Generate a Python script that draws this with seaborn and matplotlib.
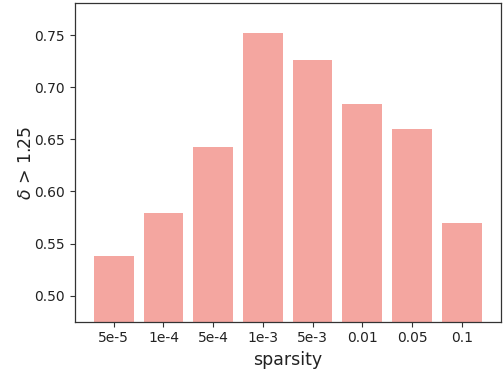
import matplotlib
matplotlib.use("Agg")
import matplotlib.pyplot as plt
import seaborn as sns
import pandas as pd

categories = ["5e-5", "1e-4", "5e-4", "1e-3", "5e-3", "0.01", "0.05", "0.1"]
values = [0.538, 0.579, 0.643, 0.752, 0.726, 0.684, 0.660, 0.570]

df = pd.DataFrame({"sparsity": categories, "value": values})

sns.set_style("ticks")
plt.rcParams['font.family'] = ['DejaVu Sans']

fig = plt.figure(figsize=(5.03, 3.70), dpi=100)
ax = fig.add_axes([74.5 / 503, 1 - 321.7 / 370, (501 - 74.5) / 503, (321.7 - 3.3) / 370])
sns.barplot(data=df, x="sparsity", y="value", color="#F4A6A0", saturation=1,
            width=0.8, ax=ax, order=categories, linewidth=0, edgecolor="none")
ax.set_xlim(-0.79, 7.79)
ax.set_ylim(0.475, 0.7805)
ax.set_yticks([0.50, 0.55, 0.60, 0.65, 0.70, 0.75])
ax.set_yticklabels(["0.50", "0.55", "0.60", "0.65", "0.70", "0.75"])
ax.tick_params(axis='both', labelsize=10, length=3.5, width=0.8, color='#333333',
               labelcolor='#222222')
ax.set_xlabel("sparsity", fontsize=12.5, color='#222222')
ax.set_ylabel(r"$\delta$ > 1.25", fontsize=12.5, labelpad=-1, color='#222222')
for s in ax.spines.values():
    s.set_visible(True)
    s.set_color('#333333')
    s.set_linewidth(0.9)
fig.savefig("out.png", dpi=100)
